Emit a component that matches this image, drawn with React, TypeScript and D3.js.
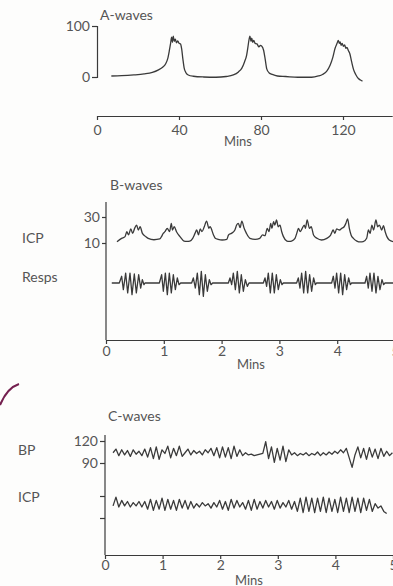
import React, { useEffect, useRef } from "react";
import * as d3 from "d3";

const W = 393;
const H = 586;
const FONT = "Lato, 'Open Sans', sans-serif";
const INK = "#3a3a3a";
const TEXT = "#555";

// A-waves: [minutes, ICP mmHg]
const aWavesIcp: [number, number][] = [
  [7, 2], [12, 2.5], [18, 4], [23, 6], [27, 9], [30, 14], [32, 19], [33.5, 26], [34.5, 36],
  [35.3, 52], [35.9, 66], [36.4, 78], [36.8, 68], [37.2, 80], [37.7, 70], [38.2, 74], [38.8, 67],
  [39.4, 71], [40, 66], [40.7, 65], [41.3, 55], [41.9, 35], [42.5, 18], [43.3, 9], [44.5, 4],
  [47, 1.5], [52, 0], [58, -0.5], [63, 1], [66.5, 4], [69, 10], [70.6, 17], [72, 30], [73, 43],
  [73.6, 58], [74.1, 72], [74.6, 80], [75.1, 70], [75.5, 76], [76, 68], [76.5, 72], [77.1, 66],
  [78, 65], [79, 59], [79.7, 62], [80.3, 61], [81.3, 52], [82, 36], [82.8, 16], [84, 8], [85.5, 5],
  [88, 2], [92, 1], [98, -0.5], [104.7, -0.5], [108, 2], [110, 5], [112, 11], [113.7, 23],
  [115, 38], [116.1, 56], [117.1, 66], [117.7, 72], [118.2, 66], [118.6, 69], [119.1, 62],
  [119.6, 66], [120.2, 60], [120.8, 63], [121.4, 56], [121.9, 58], [122.6, 52], [123.3, 46],
  [124.2, 30], [125.2, 14], [126.2, 5], [127.5, -3], [128.5, -6], [129.5, -8],
];
const aTicksX = [0, 40, 80, 120];
const aTicksY = [0, 100];

// B-waves: [minutes, ICP mmHg]
const bWavesIcp: [number, number][] = [
  [0.19, 11.0], [0.27, 13.6], [0.33, 14.9], [0.36, 18.7], [0.39, 16.2], [0.43, 20.8], [0.46, 17.4],
  [0.5, 21.8], [0.53, 23.8], [0.56, 20], [0.59, 22.5], [0.63, 17.4], [0.69, 14.9], [0.73, 13.6],
  [0.83, 12.5], [0.93, 13.1], [0.96, 14.9], [0.99, 17.4], [1.02, 18.7], [1.06, 21.3], [1.1, 18.7],
  [1.13, 25.1], [1.15, 20], [1.18, 22.5], [1.22, 18.7], [1.28, 14.9], [1.35, 11.5], [1.4, 11.2],
  [1.45, 11.5], [1.5, 13.6], [1.54, 17.4], [1.57, 20], [1.6, 16.2], [1.63, 20.8], [1.66, 18.7],
  [1.7, 22.5], [1.74, 26.9], [1.78, 21.3], [1.8, 22.5], [1.86, 16.2], [1.89, 13.6], [1.94, 12.8],
  [2.01, 12.3], [2.09, 12.8], [2.12, 16.2], [2.17, 17.4], [2.23, 20], [2.26, 23.8], [2.29, 25.1],
  [2.32, 21.8], [2.35, 26.9], [2.39, 21.3], [2.43, 17.4], [2.49, 13.6], [2.58, 12.8], [2.66, 13.6],
  [2.71, 16.2], [2.75, 15.6], [2.79, 21.3], [2.82, 18.7], [2.85, 25.1], [2.87, 21.3], [2.9, 26.4],
  [2.92, 23.8], [2.95, 27.7], [2.98, 22.5], [3.01, 23.8], [3.04, 18.7], [3.07, 14.9], [3.13, 11.5],
  [3.17, 11.2], [3.21, 11.5], [3.27, 13.6], [3.3, 17.4], [3.33, 21.3], [3.36, 18.7], [3.39, 20.8],
  [3.43, 23.8], [3.45, 21.3], [3.48, 27.7], [3.52, 21.3], [3.55, 22.5], [3.59, 16.2], [3.65, 13.6],
  [3.73, 12.3], [3.82, 13.6], [3.88, 15.6], [3.9, 17.4], [3.93, 20], [3.96, 17.4], [3.99, 20.8],
  [4.04, 20], [4.08, 21.3], [4.12, 22.5], [4.15, 25.1], [4.18, 28.5], [4.21, 21.3], [4.24, 16.2],
  [4.28, 13.6], [4.34, 11.5], [4.4, 10.8], [4.45, 11.0], [4.51, 13.6], [4.54, 20], [4.57, 17.4],
  [4.6, 23.8], [4.63, 20], [4.67, 27.7], [4.7, 22.5], [4.73, 23.8], [4.77, 20], [4.8, 23.3],
  [4.83, 18.7], [4.86, 14.9], [4.9, 12.3], [4.97, 11.0],
];

// B-waves respiration trace: [minutes, deflection (arbitrary units)]
const bWavesResps: [number, number][] = [
  [0.1, 0], [0.23, 0], [0.271, 5.6], [0.3, -5.6], [0.34, 8.3], [0.375, -8.3], [0.415, 8.3],
  [0.45, -9.7], [0.49, 7.5], [0.525, -8.3], [0.565, 6.9], [0.6, -4.2], [0.629, 2.8], [0.657, -1.4],
  [0.675, 0], [0.923, 0], [0.963, 6.9], [0.992, -6.9], [1.027, 8.3], [1.061, -9.7], [1.096, 8.3],
  [1.13, -8.3], [1.165, 6.9], [1.2, -5.6], [1.234, 4.2], [1.263, -1.4], [1.292, 0], [1.482, 0],
  [1.511, 4.2], [1.546, -4.2], [1.58, 8.3], [1.615, -9.7], [1.649, 9.7], [1.684, -11.1],
  [1.719, 6.9], [1.753, -6.9], [1.788, 2.8], [1.817, -1.4], [1.845, 0], [2.117, 0], [2.145, 4.2],
  [2.174, -1.4], [2.203, 8.3], [2.238, -5.6], [2.272, 9.7], [2.307, -8.3], [2.341, 6.9],
  [2.376, -6.9], [2.411, 2.8], [2.445, -2.8], [2.474, 0], [2.722, 0], [2.751, 4.2], [2.779, -2.8],
  [2.808, 8.3], [2.843, -8.3], [2.877, 8.3], [2.912, -8.3], [2.947, 6.9], [2.981, -5.6],
  [3.016, 2.8], [3.045, -1.4], [3.068, 0], [3.298, 0], [3.327, 4.2], [3.356, -4.2], [3.385, 8.3],
  [3.42, -8.3], [3.454, 9.7], [3.489, -8.3], [3.523, 6.9], [3.558, -6.9], [3.592, 4.2],
  [3.621, -1.4], [3.644, 0], [3.904, 0], [3.933, 5.6], [3.962, -4.2], [3.99, 8.3], [4.025, -8.3],
  [4.06, 8.3], [4.094, -9.7], [4.129, 6.9], [4.163, -5.6], [4.198, 4.2], [4.227, -1.4], [4.25, 0],
  [4.481, 0], [4.509, 5.6], [4.538, -4.2], [4.567, 8.3], [4.602, -6.9], [4.636, 8.3],
  [4.671, -8.3], [4.705, 5.6], [4.74, -5.6], [4.775, 2.8], [4.804, -1.4], [4.827, 0], [5.0, 0],
];
const bTicksX = [0, 1, 2, 3, 4, 5];
const bTicksIcp = [10, 30];

// C-waves: traces sampled every 0.05 min from 0.14 min
const cStart = 0.14;
const cStep = 0.05;
const cWavesBp = [
  104, 109, 100, 108, 101, 107, 99, 108, 102, 106, 100, 109, 98,
  111, 96, 112, 95, 108, 103, 113, 97, 110, 100, 113, 99, 104, 109, 101,
  107, 103, 106, 101, 108, 104, 110, 100, 111,
  97, 112, 98, 111, 96, 113, 99, 108, 100, 104,
  101, 102, 100, 101, 102, 103,
  119, 96,
  112, 91, 110, 94, 113, 92, 108,
  101, 104, 100, 103, 101, 104, 100, 103, 101, 105, 100, 104, 101, 105, 102, 106, 103,
  108, 104, 110, 97, 84, 101,
  112, 97, 110, 95, 111, 98, 109, 96, 110, 99, 106, 100, 104,
];
const cWavesIcp = [
  15.5, 19.5, 15, 18,
  15.5, 17.5, 15, 17, 15.5, 17.5, 15, 17.5,
  14, 18.5, 13.5, 18, 14, 19, 13.5, 18.5, 14, 18, 13.5, 18.5, 14.5, 18, 14, 17.5, 14.5,
  16.5, 15, 17, 15.5, 16.5, 14.5, 17, 15,
  18, 14, 17.5, 13.5, 18.5, 14.5, 18, 15, 17, 14, 18, 13.5, 18.5, 14,
  17.5, 14.5, 18, 15, 17.5, 14, 18, 14.5, 17, 15, 18, 14, 17.5,
  13, 19, 12.5, 19.5, 13, 19, 12.5, 19, 13, 19.5, 12.5, 19, 13, 18.5, 12.5, 19.5, 13, 19, 12.5,
  19.5, 13, 19, 12.5, 19, 13.5, 18.5, 13,
  16.5, 14.5, 15.5, 13, 12,
];
const cTicksX = [0, 1, 2, 3, 4, 5];
const cTicksBp = [90, 120];
const cTicksIcp = [10, 20];

function styleAxis(g: any) {
  g.selectAll("path, line").attr("stroke", INK).attr("stroke-width", 1.2);
  g.selectAll("text").attr("fill", TEXT).style("font-family", FONT).style("font-size", "14px");
}

function label(svg: any, x: number, y: number, t: string, size = 14) {
  svg
    .append("text")
    .attr("x", x)
    .attr("y", y)
    .attr("fill", TEXT)
    .style("font-family", FONT)
    .style("font-size", `${size}px`)
    .text(t);
}

function trace(svg: any, data: [number, number][], x: any, y: any, curve: any) {
  const line = d3
    .line<[number, number]>()
    .x((d) => x(d[0]))
    .y((d) => y(d[1]))
    .curve(curve);
  svg
    .append("path")
    .datum(data)
    .attr("fill", "none")
    .attr("stroke", INK)
    .attr("stroke-width", 1.3)
    .attr("stroke-linejoin", "round")
    .attr("d", line);
}

function drawChart(svg: any) {
  const fmt = d3.format("d");

  // ---- A-waves
  const xA = d3.scaleLinear().domain([0, 144]).range([97, 392.2]);
  const yA = d3.scaleLinear().domain([0, 100]).range([77, 26]);
  svg
    .append("g")
    .attr("transform", "translate(0,116)")
    .call(d3.axisBottom(xA).tickValues(aTicksX).tickFormat(fmt).tickSizeInner(4).tickSizeOuter(0).tickPadding(5))
    .call(styleAxis);
  svg
    .append("g")
    .attr("transform", "translate(97,0)")
    .call(d3.axisLeft(yA).tickValues(aTicksY).tickSize(5).tickPadding(2))
    .call(styleAxis);
  trace(svg, aWavesIcp, xA, yA, d3.curveMonotoneX);
  label(svg, 100, 20, "A-waves");
  label(svg, 224, 146, "Mins", 13);

  // ---- B-waves
  const xB = d3.scaleLinear().domain([0, 5]).range([106, 395]);
  const yB = d3.scaleLinear().domain([10, 30]).range([243, 217]);
  const rB = d3.scaleLinear().domain([-10, 10]).range([295, 271]);
  svg.append("line").attr("x1", 106).attr("x2", 106).attr("y1", 202).attr("y2", 340)
    .attr("stroke", INK).attr("stroke-width", 1.2);
  svg
    .append("g")
    .attr("transform", "translate(106,0)")
    .call(d3.axisLeft(yB).tickValues(bTicksIcp).tickSize(4).tickPadding(2))
    .call((g: any) => g.select(".domain").remove())
    .call(styleAxis);
  svg
    .append("g")
    .attr("transform", "translate(0,340)")
    .call(d3.axisBottom(xB).tickValues(bTicksX).tickFormat(fmt).tickSizeInner(4).tickSizeOuter(0).tickPadding(2))
    .call(styleAxis);
  trace(svg, bWavesIcp, xB, yB, d3.curveMonotoneX);
  trace(svg, bWavesResps, xB, rB, d3.curveLinear);
  label(svg, 110, 190, "B-waves");
  label(svg, 22, 243, "ICP");
  label(svg, 22, 282, "Resps");
  label(svg, 237, 369, "Mins", 13);

  // ---- C-waves
  const xC = d3.scaleLinear().domain([0, 5]).range([105, 393]);
  const yBp = d3.scaleLinear().domain([90, 120]).range([463, 441]);
  const yIcp = d3.scaleLinear().domain([10, 20]).range([518, 496]);
  svg.append("line").attr("x1", 105).attr("x2", 105).attr("y1", 435).attr("y2", 555)
    .attr("stroke", INK).attr("stroke-width", 1.2);
  svg
    .append("g")
    .attr("transform", "translate(105,0)")
    .call(d3.axisLeft(yBp).tickValues(cTicksBp).tickSize(5).tickPadding(2))
    .call((g: any) => g.select(".domain").remove())
    .call(styleAxis);
  svg
    .append("g")
    .attr("transform", "translate(105,0)")
    .call(d3.axisLeft(yIcp).tickValues(cTicksIcp).tickSize(5).tickFormat(() => ""))
    .call((g: any) => g.select(".domain").remove())
    .call(styleAxis);
  svg
    .append("g")
    .attr("transform", "translate(0,555)")
    .call(d3.axisBottom(xC).tickValues(cTicksX).tickFormat(fmt).tickSizeInner(4).tickSizeOuter(0).tickPadding(1))
    .call(styleAxis);
  const bp = cWavesBp.map((v, i) => [cStart + i * cStep, v] as [number, number]);
  const icp = cWavesIcp.map((v, i) => [cStart + i * cStep, v] as [number, number]);
  trace(svg, bp, xC, yBp, d3.curveLinear);
  trace(svg, icp, xC, yIcp, d3.curveLinear);
  label(svg, 108, 421, "C-waves");
  label(svg, 18, 455, "BP");
  label(svg, 18, 502, "ICP");
  label(svg, 235, 585, "Mins", 13);

  // pen mark in the margin of the scanned page
  svg
    .append("path")
    .attr("d", "M0,405 Q7,388 19,384")
    .attr("fill", "none")
    .attr("stroke", "#74204f")
    .attr("stroke-width", 2);
}

export default function App() {
  const ref = useRef<SVGSVGElement>(null);
  useEffect(() => {
    const svg = d3.select(ref.current);
    svg.selectAll("*").remove();
    drawChart(svg);
  }, []);
  return (
    <svg
      ref={ref}
      width={W}
      height={H}
      style={{ position: "absolute", left: 0, top: 0, background: "#fdfdfc" }}
    />
  );
}
